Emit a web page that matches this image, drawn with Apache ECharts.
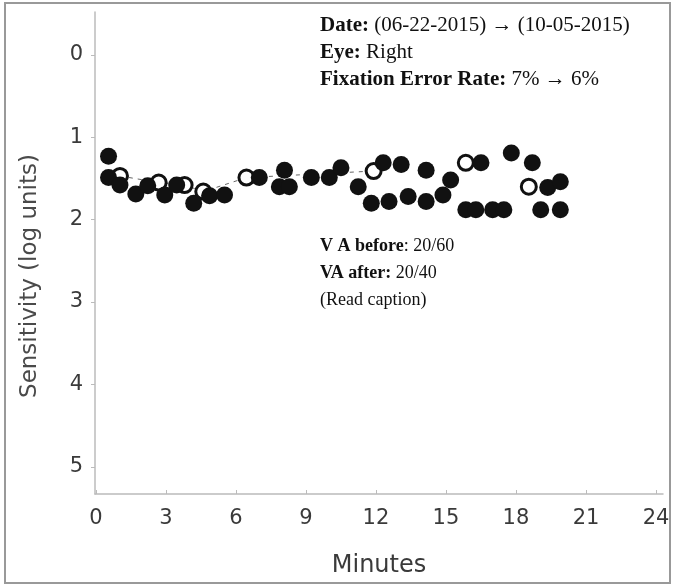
<!DOCTYPE html>
<html>
<head>
<meta charset="utf-8">
<script src="https://cdn.jsdelivr.net/npm/echarts@6/dist/echarts.min.js"></script>
<style>
  html, body { margin: 0; padding: 0; background: #fff; }
  #chart { width: 676px; height: 586px; }
</style>
</head>
<body>
<div id="chart"></div>
<script>
// minutes / sensitivity (log units)
var filledMinutes = [0.54, 0.54, 1.03, 1.71, 2.22, 2.95, 3.46, 4.19, 4.87, 5.51,
  7.0, 7.86, 8.08, 8.29, 9.23, 10.0, 10.5, 11.24, 11.8,
  12.31, 13.08, 14.15, 15.2, 16.5, 17.8, 18.7, 19.36, 19.9,
  12.56, 13.38, 14.15, 14.87, 15.85, 16.28, 17.0, 17.48, 19.06, 19.9];
var filledSens = [1.23, 1.49, 1.58, 1.69, 1.59, 1.70, 1.58, 1.80, 1.71, 1.70,
  1.49, 1.60, 1.40, 1.60, 1.49, 1.49, 1.37, 1.60, 1.80,
  1.31, 1.33, 1.40, 1.52, 1.31, 1.19, 1.31, 1.61, 1.54,
  1.78, 1.72, 1.78, 1.70, 1.88, 1.88, 1.88, 1.88, 1.88, 1.88];

// open circles: ones mostly hidden behind filled dots, and clear ones
var hiddenMinutes = [1.03, 2.69, 3.8, 4.6];
var hiddenSens = [1.47, 1.55, 1.58, 1.66];
var openMinutes = [6.45, 11.9, 15.85, 18.55];
var openSens = [1.49, 1.41, 1.31, 1.60];

var yTicks = [0, 1, 2, 3, 4, 5];
var xTicks = [0, 3, 6, 9, 12, 15, 18, 21, 24];

function pairs(xs, ys) {
  return xs.map(function (x, i) { return [x, ys[i]]; });
}

// dashed trace through the open circles of the first 12 minutes
var trace = pairs(hiddenMinutes, hiddenSens)
  .concat(pairs(openMinutes, openSens).filter(function (p) { return p[0] < 12; }))
  .sort(function (a, b) { return a[0] - b[0]; });

var chart = echarts.init(document.getElementById('chart'));

var tickFont = { fontFamily: 'DejaVu Sans', fontSize: 21, color: '#3a3a3a' };

var option = {
  backgroundColor: '#ffffff',
  animation: false,
  grid: { left: 95, right: 13, top: 12, bottom: 92 },
  xAxis: {
    type: 'value',
    position: 'bottom',
    min: -0.04,
    max: 24.3,
    name: 'Minutes',
    nameLocation: 'middle',
    nameGap: 60,
    nameTextStyle: { fontFamily: 'DejaVu Sans', fontSize: 24, color: '#3a3a3a' },
    axisLine: { show: true, onZero: false, lineStyle: { color: '#bbb', width: 1.5 } },
    axisTick: { show: true, inside: true, length: 4, customValues: xTicks, lineStyle: { color: '#bbb' } },
    axisLabel: Object.assign({ customValues: xTicks, margin: 14 }, tickFont),
    splitLine: { show: false }
  },
  yAxis: {
    type: 'value',
    inverse: true,
    min: -0.52,
    max: 5.33,
    axisLine: { show: true, onZero: false, lineStyle: { color: '#bbb', width: 1.5 } },
    axisTick: { show: true, length: 4, customValues: yTicks, lineStyle: { color: '#bbb' } },
    axisLabel: Object.assign({ customValues: yTicks, margin: 12 }, tickFont),
    splitLine: { show: false }
  },
  series: [
    {
      name: 'trace',
      type: 'line',
      data: trace,
      showSymbol: false,
      lineStyle: { color: '#666', width: 1, type: [4, 5] },
      z: 1
    },
    {
      name: 'before (hidden)',
      type: 'scatter',
      data: pairs(hiddenMinutes, hiddenSens),
      symbol: 'circle',
      symbolSize: 15,
      itemStyle: { color: '#fff', borderColor: '#111', borderWidth: 3, opacity: 1 },
      z: 2
    },
    {
      name: 'before',
      type: 'scatter',
      data: pairs(openMinutes, openSens),
      symbol: 'circle',
      symbolSize: 15,
      itemStyle: { color: '#fff', borderColor: '#111', borderWidth: 3, opacity: 1 },
      z: 2
    },
    {
      name: 'after',
      type: 'scatter',
      data: pairs(filledMinutes, filledSens),
      symbol: 'circle',
      symbolSize: 17,
      itemStyle: { color: '#111', opacity: 1 },
      z: 3
    }
  ],
  graphic: [
    {
      type: 'rect',
      shape: { x: 5, y: 3, width: 665, height: 580 },
      style: { fill: 'none', stroke: '#999', lineWidth: 2 },
      silent: true
    },
    {
      type: 'text',
      x: 30,
      y: 276,
      rotation: Math.PI / 2,
      style: {
        text: 'Sensitivity (log units)',
        font: '23px "DejaVu Sans"',
        fill: '#4a4a4a',
        align: 'center',
        verticalAlign: 'middle'
      }
    },
    {
      type: 'text',
      left: 320,
      top: 12,
      style: {
        text: '{b|Date:} (06-22-2015) → (10-05-2015)\n{b|Eye:} Right\n{b|Fixation Error Rate:} 7% → 6%',
        font: '21px "Liberation Serif"',
        lineHeight: 27,
        fill: '#111',
        rich: {
          b: { fontWeight: 'bold', fontFamily: 'Liberation Serif', fontSize: 21, fill: '#111' }
        }
      }
    },
    {
      type: 'text',
      left: 320,
      top: 233,
      style: {
        text: '{b|V A before}: 20/60\n{b|VA after:} 20/40\n(Read caption)',
        font: '18px "Liberation Serif"',
        lineHeight: 27,
        fill: '#111',
        rich: {
          b: { fontWeight: 'bold', fontFamily: 'Liberation Serif', fontSize: 18, fill: '#111' }
        }
      }
    }
  ]
};

chart.setOption(option);
</script>
</body>
</html>
